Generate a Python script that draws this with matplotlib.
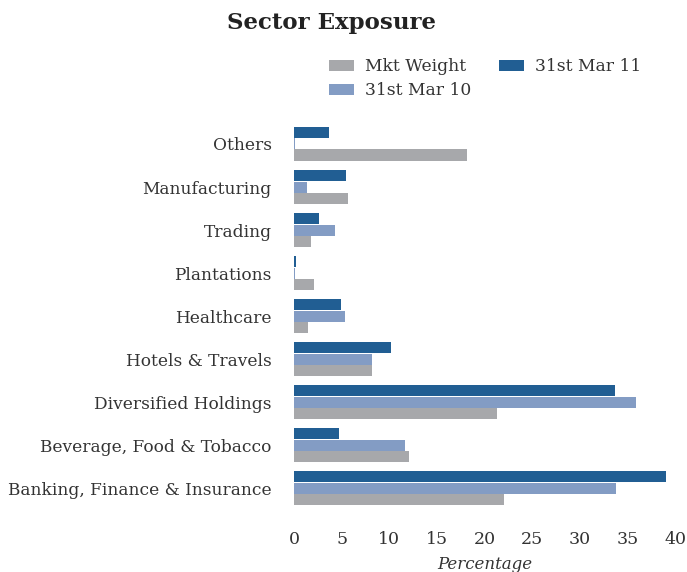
import matplotlib
matplotlib.use("Agg")
import matplotlib.pyplot as plt
import numpy as np

# 업종별 비중 (%), 아래에서 위 순서
sectors = [
    "Banking, Finance & Insurance",
    "Beverage, Food & Tobacco",
    "Diversified Holdings",
    "Hotels & Travels",
    "Healthcare",
    "Plantations",
    "Trading",
    "Manufacturing",
    "Others",
]
mkt_weight = [22.0, 12.1, 21.3, 8.2, 1.5, 2.1, 1.8, 5.7, 18.2]
mar_10 = [33.8, 11.7, 35.9, 8.2, 5.3, 0.15, 4.3, 1.4, 0.15]
mar_11 = [39.0, 4.7, 33.7, 10.2, 4.9, 0.2, 2.6, 5.5, 3.7]

GRAY = "#a7a8ab"
LIGHT = "#839cc4"
DARK = "#215e93"

plt.rcParams["font.family"] = ["DejaVu Serif"]

fig = plt.figure(figsize=(6.87, 5.72), dpi=100)
ax = fig.add_axes([0.428, 0.1014, 0.5546, 0.692])

y = np.arange(len(sectors))
h = 0.256
ax.barh(y - h, mkt_weight, height=h, color=GRAY, label="Mkt Weight")
ax.barh(y, mar_10, height=h, color=LIGHT, label="31st Mar 10")
ax.barh(y + h + 0.02, mar_11, height=h, color=DARK, label="31st Mar 11")

ax.set_xlim(0, 40)
ax.set_ylim(-0.6, len(sectors) - 0.4)
ax.set_xticks(np.arange(0, 41, 5))
ax.set_yticks(y)
ax.set_yticklabels(sectors)
for s in ax.spines.values():
    s.set_visible(False)
ax.tick_params(axis="y", length=0, pad=16, labelsize=12.25, labelcolor="#333333")
ax.tick_params(axis="x", length=0, pad=12, labelsize=12.5, labelcolor="#333333")
ax.set_xlabel("Percentage", fontstyle="italic", fontsize=12, color="#333333", labelpad=6)

fig.text(0.483, 0.96, "Sector Exposure", ha="center", va="center",
         fontsize=16.5, fontweight="bold", color="#222222")

fig.legend(loc="upper left", bbox_to_anchor=(0.457, 0.925), ncol=2, frameon=False,
           fontsize=12.3, handlelength=1.45, handleheight=0.6, columnspacing=1.6,
           labelspacing=0.4, handletextpad=0.65, labelcolor="#333333")

fig.savefig("out.png", dpi=100)
